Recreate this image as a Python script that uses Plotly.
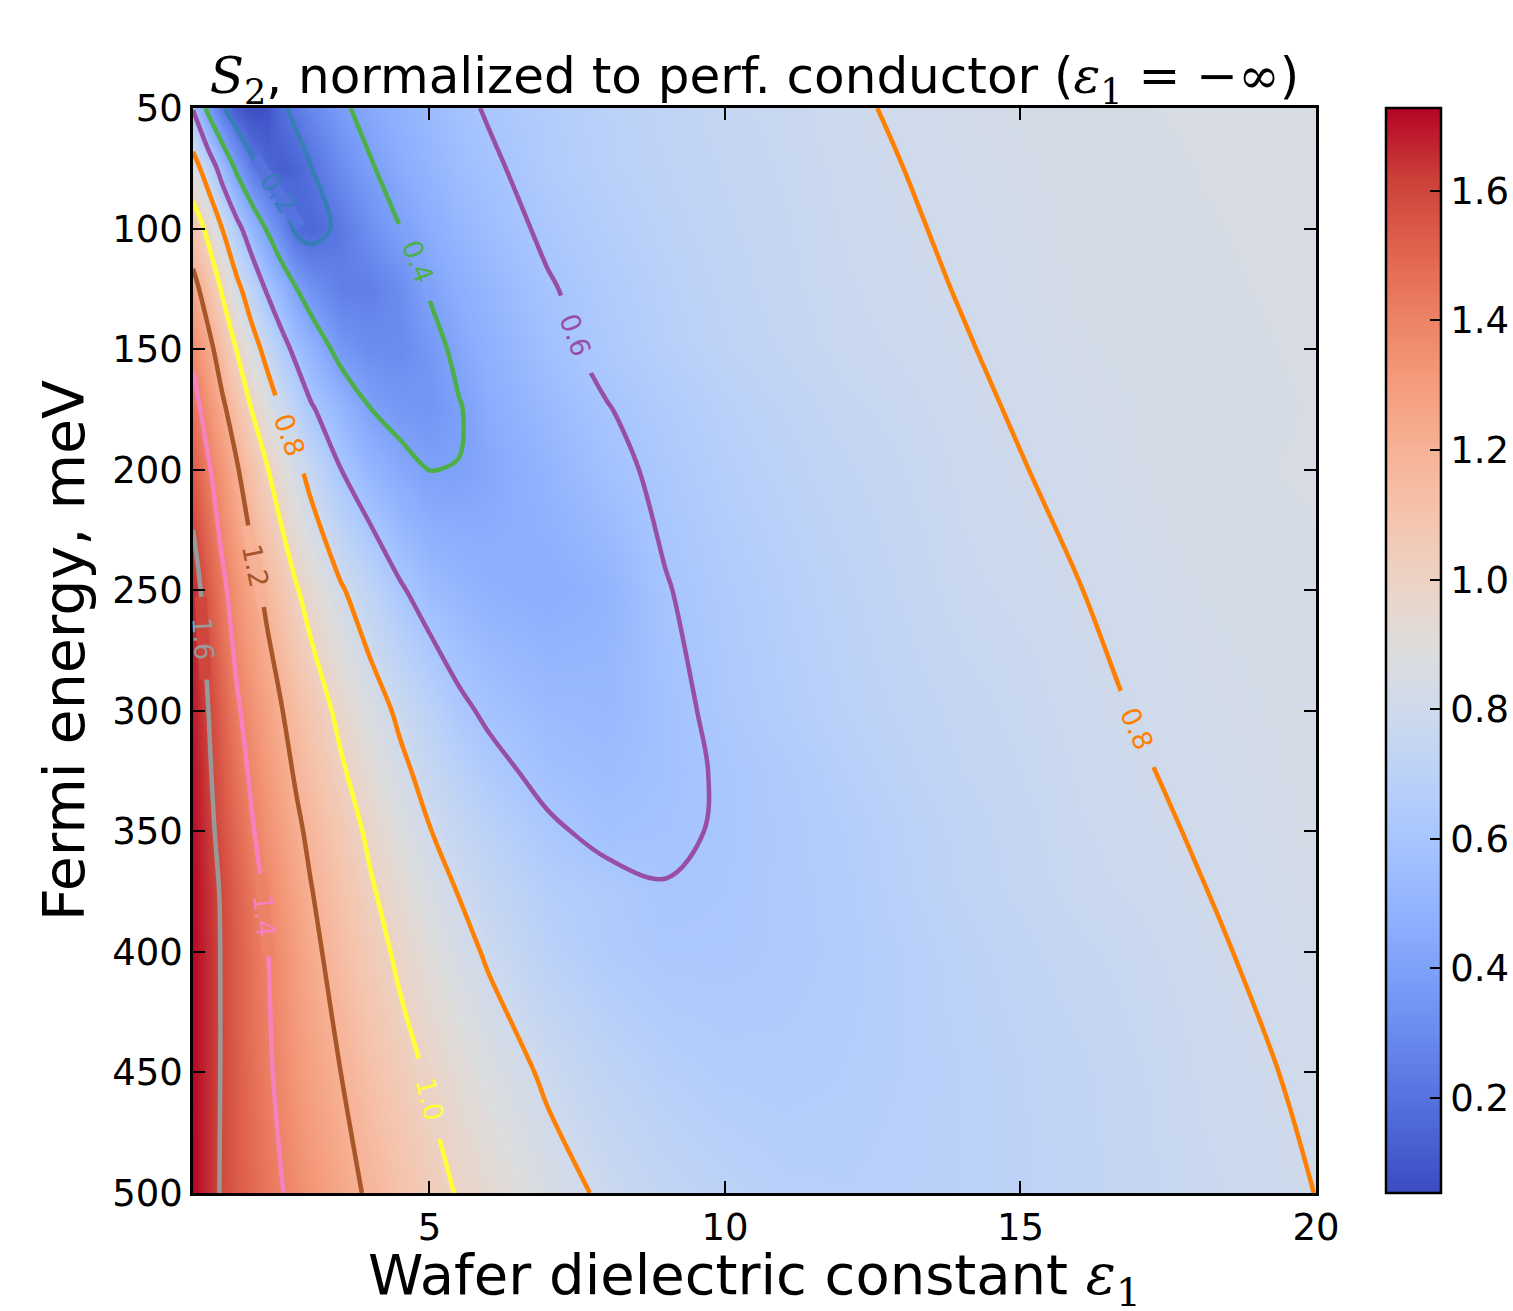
import math
import plotly.graph_objects as go

# Wafer dielectric constant (x) and Fermi energy in meV (y) sample points
eps1 = [1, 1.25, 1.5, 1.75, 2, 2.25, 2.5, 2.75, 3, 3.5, 4, 4.5, 5, 5.5, 6,
        7, 8, 9, 10, 11, 12, 14, 16, 18, 20]
fermi_meV = [50, 75, 100, 125, 150, 175, 200, 250, 300, 325, 350, 375, 400, 450, 500]

# Normalized S2, one row per Fermi energy (values along eps1)
s2_050 = [0.59, 0.37, 0.215, 0.105, 0.057, 0.076, 0.18, 0.233, 0.29, 0.38, 0.44, 0.485, 0.53, 0.575, 0.61,
          0.655, 0.69, 0.72, 0.75, 0.77, 0.7922, 0.8192, 0.838, 0.848, 0.852]
s2_075 = [0.88, 0.712, 0.527, 0.37, 0.235, 0.155, 0.12, 0.145, 0.198, 0.31, 0.39, 0.45, 0.50, 0.55, 0.58,
          0.648, 0.685, 0.712, 0.738, 0.762, 0.7862, 0.8132, 0.833, 0.845, 0.851]
s2_100 = [1.10, 0.965, 0.795, 0.64, 0.51, 0.39, 0.28, 0.175, 0.155, 0.225, 0.32, 0.398, 0.455, 0.51, 0.55,
          0.62, 0.665, 0.70, 0.73, 0.755, 0.7808, 0.8078, 0.83, 0.843, 0.85]
s2_125 = [1.25, 1.126, 0.98, 0.835, 0.707, 0.585, 0.496, 0.403, 0.33, 0.25, 0.25, 0.31, 0.41, 0.465, 0.51,
          0.59, 0.645, 0.685, 0.72, 0.75, 0.7754, 0.8024, 0.8294, 0.841, 0.849]
s2_150 = [1.37, 1.25, 1.12, 0.99, 0.865, 0.752, 0.65, 0.564, 0.49, 0.355, 0.31, 0.30, 0.355, 0.43, 0.48,
          0.565, 0.63, 0.675, 0.71, 0.74, 0.7696, 0.7966, 0.8236, 0.838, 0.848]
s2_175 = [1.455, 1.345, 1.227, 1.114, 0.995, 0.894, 0.79, 0.703, 0.615, 0.506, 0.402, 0.36, 0.345, 0.392, 0.455,
          0.53, 0.595, 0.645, 0.685, 0.715, 0.75, 0.7906, 0.8176, 0.835, 0.846]
s2_200 = [1.535, 1.42, 1.317, 1.21, 1.11, 1.01, 0.92, 0.832, 0.752, 0.602, 0.505, 0.44, 0.399, 0.402, 0.43,
          0.50, 0.57, 0.625, 0.67, 0.70, 0.73, 0.7846, 0.8116, 0.8386, 0.848]
s2_250 = [1.665, 1.54, 1.427, 1.335, 1.25, 1.168, 1.09, 1.01, 0.944, 0.815, 0.715, 0.615, 0.545, 0.51, 0.48,
          0.462, 0.495, 0.595, 0.64, 0.675, 0.705, 0.7722, 0.7992, 0.8262, 0.84]
s2_300 = [1.69, 1.605, 1.51, 1.415, 1.345, 1.275, 1.205, 1.14, 1.08, 0.965, 0.865, 0.775, 0.70, 0.623, 0.581,
          0.535, 0.522, 0.572, 0.625, 0.66, 0.69, 0.745, 0.7888, 0.8158, 0.834]
s2_325 = [1.70, 1.62, 1.535, 1.45, 1.378, 1.31, 1.245, 1.183, 1.125, 1.018, 0.92, 0.83, 0.753, 0.69, 0.635,
          0.565, 0.545, 0.57, 0.612, 0.64, 0.675, 0.735, 0.7827, 0.8097, 0.832]
s2_350 = [1.71, 1.635, 1.56, 1.485, 1.41, 1.345, 1.285, 1.225, 1.17, 1.07, 0.975, 0.885, 0.805, 0.745, 0.695,
          0.619, 0.57, 0.582, 0.61, 0.635, 0.66, 0.72, 0.7766, 0.8036, 0.8306]
s2_375 = [1.715, 1.65, 1.585, 1.515, 1.445, 1.38, 1.32, 1.26, 1.205, 1.11, 1.015, 0.935, 0.86, 0.795, 0.74,
          0.665, 0.638, 0.605, 0.615, 0.635, 0.655, 0.715, 0.7707, 0.7977, 0.8247]
s2_400 = [1.72, 1.655, 1.59, 1.525, 1.46, 1.405, 1.35, 1.29, 1.235, 1.14, 1.055, 0.975, 0.905, 0.84, 0.785,
          0.69, 0.645, 0.62, 0.62, 0.635, 0.65, 0.70, 0.752, 0.792, 0.819]
s2_450 = [1.722, 1.655, 1.59, 1.53, 1.47, 1.42, 1.37, 1.32, 1.275, 1.20, 1.12, 1.05, 0.985, 0.925, 0.87,
          0.78, 0.715, 0.675, 0.655, 0.65, 0.66, 0.69, 0.73, 0.7815, 0.8085]
s2_500 = [1.728, 1.655, 1.585, 1.535, 1.49, 1.445, 1.405, 1.365, 1.325, 1.25, 1.18, 1.11, 1.05, 0.99, 0.94,
          0.85, 0.78, 0.73, 0.70, 0.68, 0.675, 0.69, 0.725, 0.773, 0.8005]

s2_grid = [s2_050, s2_075, s2_100, s2_125, s2_150, s2_175, s2_200,
           s2_250, s2_300, s2_325, s2_350, s2_375, s2_400, s2_450, s2_500]

contour_levels = [0.2, 0.4, 0.6, 0.8, 1.0, 1.2, 1.4, 1.6]
colorbar_ticks = [0.2, 0.4, 0.6, 0.8, 1.0, 1.2, 1.4, 1.6]
z_min, z_max = 0.053, 1.728

# Set1-style line colours, one per contour level
level_colors = ["#377eb8", "#4daf4a", "#984ea3", "#ff7f00",
                "#ffff33", "#a65628", "#f781bf", "#999999"]

# Inline contour labels: (level, approximate eps1, Fermi energy in meV)
label_spots = [
    (0.2, 2.3, 85.0),
    (0.4, 4.7, 113.5),
    (0.6, 7.5, 144.0),
    (0.8, 2.6, 185.5),
    (0.8, 17.0, 307.5),
    (1.0, 5.0, 461.0),
    (1.2, 2.1, 240.0),
    (1.4, 2.2, 385.0),
    (1.6, 1.2, 270.0),
]

# Diverging cool-warm colour map
coolwarm_stops = [
    (0.0, (59, 76, 192)), (0.0625, (77, 104, 215)), (0.125, (98, 130, 234)),
    (0.1875, (119, 154, 247)), (0.25, (141, 176, 254)), (0.3125, (163, 194, 255)),
    (0.375, (184, 208, 249)), (0.4375, (204, 217, 238)), (0.5, (221, 221, 221)),
    (0.5625, (236, 211, 197)), (0.625, (245, 196, 173)), (0.6875, (247, 177, 148)),
    (0.75, (244, 154, 123)), (0.8125, (236, 127, 99)), (0.875, (222, 96, 77)),
    (0.9375, (203, 62, 56)), (1.0, (180, 4, 38)),
]
coolwarm = [[p, "rgb(%d,%d,%d)" % c] for p, c in coolwarm_stops]

# Page geometry of the plotting area
MARGIN = dict(l=193, r=197, t=108, b=118)
FIG_W, FIG_H = 1513, 1311
X_RANGE, Y_RANGE = [1, 20], [500, 50]
PLOT_H = FIG_H - MARGIN["t"] - MARGIN["b"]
PX_PER_X = (FIG_W - MARGIN["l"] - MARGIN["r"]) / (X_RANGE[1] - X_RANGE[0])
PX_PER_Y = PLOT_H / (Y_RANGE[0] - Y_RANGE[1])


def map_color(value):
    """Colour of the map at a given S2 value."""
    t = min(max((value - z_min) / (z_max - z_min), 0.0), 1.0)
    for (p0, c0), (p1, c1) in zip(coolwarm_stops[:-1], coolwarm_stops[1:]):
        if p0 <= t <= p1:
            f = (t - p0) / (p1 - p0)
            r, g, b = (round(a + (bb - a) * f) for a, bb in zip(c0, c1))
            return f"rgb({r},{g},{b})"
    return "rgb(%d,%d,%d)" % coolwarm_stops[-1][1]


def row_at(e):
    """S2 along eps1 at Fermi energy e (linear between the sampled rows)."""
    for j in range(len(fermi_meV) - 1):
        e0, e1 = fermi_meV[j], fermi_meV[j + 1]
        if e0 <= e <= e1:
            t = (e - e0) / (e1 - e0)
            return [a + (b - a) * t for a, b in zip(s2_grid[j], s2_grid[j + 1])]
    return list(s2_grid[-1])


def level_crossing(level, e, x_guess):
    """eps1 where the level is crossed at Fermi energy e, nearest to x_guess."""
    vals = row_at(e)
    hits = []
    for i in range(len(eps1) - 1):
        v0, v1 = vals[i], vals[i + 1]
        if v0 != v1 and (v0 - level) * (v1 - level) <= 0:
            hits.append(eps1[i] + (level - v0) / (v1 - v0) * (eps1[i + 1] - eps1[i]))
    return min(hits, key=lambda h: abs(h - x_guess))


FONT = "DejaVu Sans"
SERIF = "DejaVu Serif"
TICK_SIZE = 37

fig = go.Figure()

fig.add_trace(go.Heatmap(
    x=eps1, y=fermi_meV, z=s2_grid,
    colorscale=coolwarm, zmin=z_min, zmax=z_max, zsmooth="best",
    hoverinfo="skip",
    colorbar=dict(
        x=1.0623, xanchor="left", xpad=0, y=0.5, yanchor="middle", ypad=0,
        len=1, lenmode="fraction", thickness=55, thicknessmode="pixels",
        outlinewidth=2.5, outlinecolor="black",
        ticks="inside", ticklen=12, tickwidth=2, tickcolor="black",
        tickvals=colorbar_ticks, ticktext=[f"{v:.1f}" for v in colorbar_ticks],
        tickfont=dict(family=FONT, size=TICK_SIZE, color="black"),
    ),
))

color_of = dict(zip(contour_levels, level_colors))

for level, color in zip(contour_levels, level_colors):
    fig.add_trace(go.Contour(
        x=eps1, y=fermi_meV, z=s2_grid,
        autocontour=False,
        contours=dict(start=level, end=level, size=0.2, coloring="none",
                      showlabels=False),
        line=dict(color=color, width=4.5, smoothing=1.0),
        showscale=False, hoverinfo="skip",
    ))

# Inline labels: a thin box in the map colour of the level breaks the line,
# then the value is written along the line direction
annotations = []
for level, x_guess, e in label_spots:
    lx = level_crossing(level, e, x_guess)
    xa = level_crossing(level, e - 10, lx)
    xb = level_crossing(level, e + 10, lx)
    angle = math.degrees(math.atan2(20 * PX_PER_Y, (xb - xa) * PX_PER_X))
    if angle > 90:
        angle -= 180
    annotations.append(dict(
        x=lx, y=e, xref="x", yref="y", text=" ", showarrow=False,
        textangle=angle, xanchor="center", yanchor="middle",
        bgcolor=map_color(level), borderpad=0, width=82, height=11,
    ))
    annotations.append(dict(
        x=lx, y=e, xref="x", yref="y", text=f"{level:.1f}", showarrow=False,
        textangle=angle, xanchor="center", yanchor="middle",
        font=dict(family=FONT, size=27, color=color_of[level]),
    ))

# x-axis title, set just under the tick labels
annotations.append(dict(
    x=0.5, y=-(1278 - (FIG_H - MARGIN["b"])) / PLOT_H, xref="paper", yref="paper",
    text=f'Wafer dielectric constant <span style="font-family:{SERIF}"><i>ε</i><sub>1</sub></span>',
    showarrow=False, xanchor="center", yanchor="middle",
    font=dict(family=FONT, size=56, color="black"),
))

title_text = (f'<span style="font-family:{SERIF}"><i>S</i><sub>2</sub></span>'
              ', normalized to perf. conductor ('
              f'<span style="font-family:{SERIF}"><i>ε</i><sub>1</sub> = −∞</span>)')

fig.update_layout(
    width=FIG_W, height=FIG_H,
    margin=dict(**MARGIN, autoexpand=False),
    paper_bgcolor="white", plot_bgcolor="white",
    font=dict(family=FONT, color="black"),
    showlegend=False,
    annotations=annotations,
    title=dict(text=title_text, x=0.5, xref="paper", xanchor="center",
               y=1, yref="paper", yanchor="bottom", pad=dict(b=15),
               font=dict(family=FONT, size=50, color="black")),
    xaxis=dict(
        range=X_RANGE, tickvals=[5, 10, 15, 20],
        ticks="inside", ticklen=12, tickwidth=2, tickcolor="black",
        showline=True, linewidth=2.5, linecolor="black", mirror="ticks",
        showgrid=False, zeroline=False,
        tickfont=dict(family=FONT, size=TICK_SIZE),
        automargin=False,
    ),
    yaxis=dict(
        range=Y_RANGE, tickvals=[50, 100, 150, 200, 250, 300, 350, 400, 450, 500],
        ticks="inside", ticklen=12, tickwidth=2, tickcolor="black",
        showline=True, linewidth=2.5, linecolor="black", mirror="ticks",
        showgrid=False, zeroline=False,
        tickfont=dict(family=FONT, size=TICK_SIZE),
        title=dict(text="Fermi energy, meV", font=dict(family=FONT, size=57), standoff=10),
        automargin=False,
    ),
)

fig.write_html("out.html")
